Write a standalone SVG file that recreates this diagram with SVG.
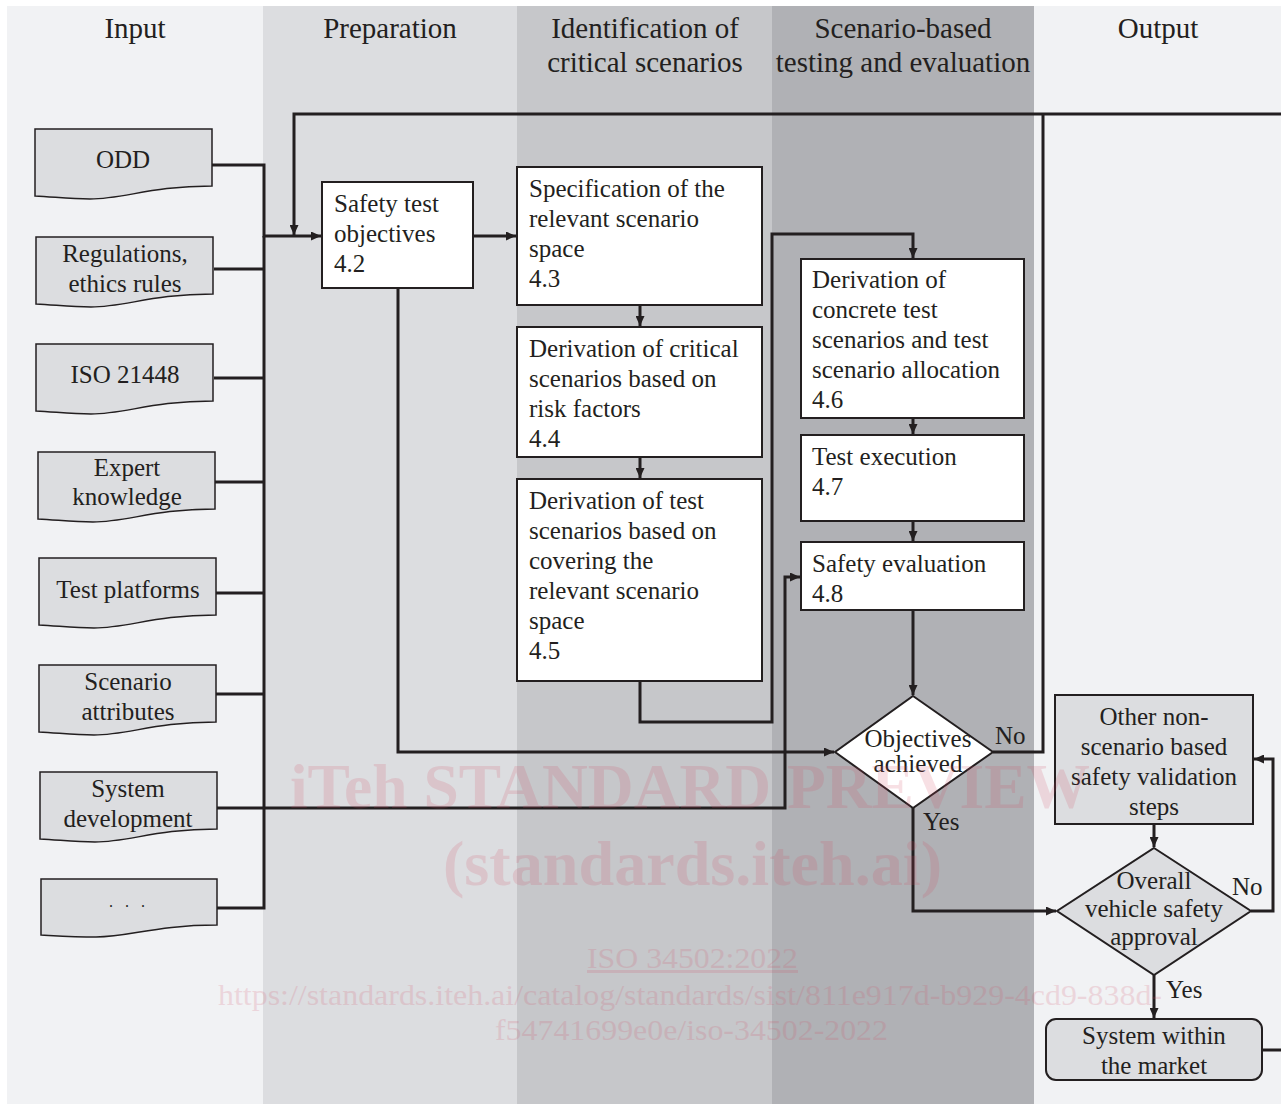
<svg xmlns="http://www.w3.org/2000/svg" xmlns:xlink="http://www.w3.org/1999/xlink" width="1281" height="1104" viewBox="0 0 1281 1104">
<style>
text{font-family:"Liberation Serif","Times New Roman",serif;fill:#231f20;}
.hd{font-size:29px;text-anchor:middle;}
.t{font-size:25px;}
.c{text-anchor:middle;}
.box{fill:#ffffff;stroke:#231f20;stroke-width:2;}
.gbox{fill:#dcdde0;stroke:#231f20;stroke-width:2;}
.doc{fill:#dcdde0;stroke:#231f20;stroke-width:1.5;}
.ln{fill:none;stroke:#231f20;stroke-width:3;}
.ar{marker-end:url(#arr);}
.wm{font-family:"Liberation Serif","Times New Roman",serif;fill:#d2465f;opacity:0.16;}
</style>
<defs>
<marker id="arr" markerUnits="userSpaceOnUse" markerWidth="11" markerHeight="9" refX="10" refY="4.5" orient="auto">
<path d="M0,0 L10,4.5 L0,9 z" fill="#231f20"/>
</marker>
<path id="doc" d="M0,0 H177 V57 C115,57 90,70 55,70 C35,70 20,68 0,67 Z"/>
</defs>
<rect x="0" y="0" width="1281" height="1104" fill="#ffffff"/>
<g id="lanes">
<rect x="7" y="6" width="256" height="1098" fill="#f1f2f4"/>
<rect x="263" y="6" width="254" height="1098" fill="#dcdde0"/>
<rect x="517" y="6" width="255" height="1098" fill="#c6c7ca"/>
<rect x="772" y="6" width="262" height="1098" fill="#b0b1b5"/>
<rect x="1034" y="6" width="247" height="1098" fill="#f1f2f4"/>
<text class="hd" x="135" y="38">Input</text>
<text class="hd" x="390" y="38">Preparation</text>
<text class="hd" x="645" y="38">Identification of</text>
<text class="hd" x="645" y="72">critical scenarios</text>
<text class="hd" x="903" y="38">Scenario-based</text>
<text class="hd" x="903" y="72">testing and evaluation</text>
<text class="hd" x="1158" y="38">Output</text>
</g>
<g id="connectors">
<path class="ln ar" d="M212,165 H264 V236 H321"/>
<path class="ln" d="M264,236 V908 H217"/>
<path class="ln" d="M214,269 H264"/>
<path class="ln" d="M214,378 H264"/>
<path class="ln" d="M215,482 H264"/>
<path class="ln" d="M216,593 H264"/>
<path class="ln" d="M216,694 H264"/>
<path class="ln ar" d="M217,808 H785 V577 H800"/>
<path class="ln ar" d="M1281,114 H294 V235"/>
<path class="ln ar" d="M473,236 H516"/>
<path class="ln ar" d="M398,288 V752 H834"/>
<path class="ln ar" d="M640,305 V326"/>
<path class="ln ar" d="M640,457 V478"/>
<path class="ln ar" d="M640,681 V722 H772 V234 H913 V258"/>
<path class="ln ar" d="M913,418 V434"/>
<path class="ln ar" d="M913,521 V541"/>
<path class="ln ar" d="M913,610 V695"/>
<path class="ln" d="M993,752 H1043 V114"/>
<path class="ln ar" d="M913,808 V911 H1056"/>
<path class="ln ar" d="M1154,824 V847"/>
<path class="ln ar" d="M1251,911 H1273 V759 H1254"/>
<path class="ln ar" d="M1154,975 V1018"/>
<path class="ln" d="M1262,1050 H1281"/>
<text class="t" x="995" y="744">No</text>
<text class="t" x="923" y="830">Yes</text>
<text class="t" x="1232" y="895">No</text>
<text class="t" x="1166" y="998">Yes</text>
</g>
<g id="in-odd"><use xlink:href="#doc" href="#doc" class="doc" x="35" y="129"/><text class="t c" x="123" y="168">ODD</text></g>
<g id="in-regulations"><use xlink:href="#doc" href="#doc" class="doc" x="36" y="237"/><text class="t c" x="125" y="262">Regulations,</text><text class="t c" x="125" y="292">ethics rules</text></g>
<g id="in-iso21448"><use xlink:href="#doc" href="#doc" class="doc" x="36" y="344"/><text class="t c" x="125" y="383">ISO 21448</text></g>
<g id="in-expert"><use xlink:href="#doc" href="#doc" class="doc" x="38" y="452"/><text class="t c" x="127" y="476">Expert</text><text class="t c" x="127" y="505">knowledge</text></g>
<g id="in-test-platforms"><use xlink:href="#doc" href="#doc" class="doc" x="39" y="558"/><text class="t c" x="128" y="598">Test platforms</text></g>
<g id="in-scenario-attributes"><use xlink:href="#doc" href="#doc" class="doc" x="39" y="665"/><text class="t c" x="128" y="690">Scenario</text><text class="t c" x="128" y="720">attributes</text></g>
<g id="in-system-development"><use xlink:href="#doc" href="#doc" class="doc" x="40" y="772"/><text class="t c" x="128" y="797">System</text><text class="t c" x="128" y="827">development</text></g>
<g id="in-more"><path class="doc" d="M41,879 H217 V925 C155,925 130,937 96,937 C75,937 60,936 41,935 Z"/><text class="t c" x="129" y="907" style="font-size:16px;letter-spacing:4px">. . .</text></g>
<g id="n42"><rect class="box" x="322" y="182" width="151" height="106"/><text class="t" x="334" y="212">Safety test</text><text class="t" x="334" y="242">objectives</text><text class="t" x="334" y="272">4.2</text></g>
<g id="n43"><rect class="box" x="517" y="167" width="245" height="138"/><text class="t" x="529" y="197">Specification of the</text><text class="t" x="529" y="227">relevant scenario</text><text class="t" x="529" y="257">space</text><text class="t" x="529" y="287">4.3</text></g>
<g id="n44"><rect class="box" x="517" y="327" width="245" height="130"/><text class="t" x="529" y="357">Derivation of critical</text><text class="t" x="529" y="387">scenarios based on</text><text class="t" x="529" y="417">risk factors</text><text class="t" x="529" y="447">4.4</text></g>
<g id="n45"><rect class="box" x="517" y="479" width="245" height="202"/><text class="t" x="529" y="509">Derivation of test</text><text class="t" x="529" y="539">scenarios based on</text><text class="t" x="529" y="569">covering the</text><text class="t" x="529" y="599">relevant scenario</text><text class="t" x="529" y="629">space</text><text class="t" x="529" y="659">4.5</text></g>
<g id="n46"><rect class="box" x="801" y="259" width="223" height="159"/><text class="t" x="812" y="288">Derivation of</text><text class="t" x="812" y="318">concrete test</text><text class="t" x="812" y="348">scenarios and test</text><text class="t" x="812" y="378">scenario allocation</text><text class="t" x="812" y="408">4.6</text></g>
<g id="n47"><rect class="box" x="801" y="435" width="223" height="86"/><text class="t" x="812" y="465">Test execution</text><text class="t" x="812" y="495">4.7</text></g>
<g id="n48"><rect class="box" x="801" y="542" width="223" height="68"/><text class="t" x="812" y="572">Safety evaluation</text><text class="t" x="812" y="602">4.8</text></g>
<g id="d-objectives"><path class="box" d="M913,696 L993,752 L913,808 L835,752 Z"/><text class="t c" x="918" y="747">Objectives</text><text class="t c" x="918" y="772">achieved</text></g>
<g id="n-other"><rect class="gbox" x="1055" y="695" width="198" height="129"/><text class="t c" x="1154" y="725">Other non-</text><text class="t c" x="1154" y="755">scenario based</text><text class="t c" x="1154" y="785">safety validation</text><text class="t c" x="1154" y="815">steps</text></g>
<g id="d-overall"><path class="gbox" d="M1154,848 L1251,911 L1154,975 L1057,911 Z"/><text class="t c" x="1154" y="889">Overall</text><text class="t c" x="1154" y="917">vehicle safety</text><text class="t c" x="1154" y="945">approval</text></g>
<g id="n-market"><rect class="gbox" x="1046" y="1019" width="216" height="61" rx="10"/><text class="t c" x="1154" y="1044">System within</text><text class="t c" x="1154" y="1074">the market</text></g>
<g id="watermark">
<text class="wm" x="290" y="808" font-size="64" font-weight="bold" textLength="800" lengthAdjust="spacingAndGlyphs">iTeh STANDARD PREVIEW</text>
<text class="wm" x="443" y="885" font-size="64" font-weight="bold" textLength="499" lengthAdjust="spacingAndGlyphs">(standards.iteh.ai)</text>
<text class="wm" x="587" y="968" font-size="30" textLength="211" lengthAdjust="spacingAndGlyphs" text-decoration="underline">ISO 34502:2022</text>
<text class="wm" x="218" y="1005" font-size="30" textLength="944" lengthAdjust="spacingAndGlyphs">https://standards.iteh.ai/catalog/standards/sist/811e917d-b929-4cd9-838d-</text>
<text class="wm" x="495" y="1040" font-size="30" textLength="393" lengthAdjust="spacingAndGlyphs">f54741699e0e/iso-34502-2022</text>
</g>
</svg>
